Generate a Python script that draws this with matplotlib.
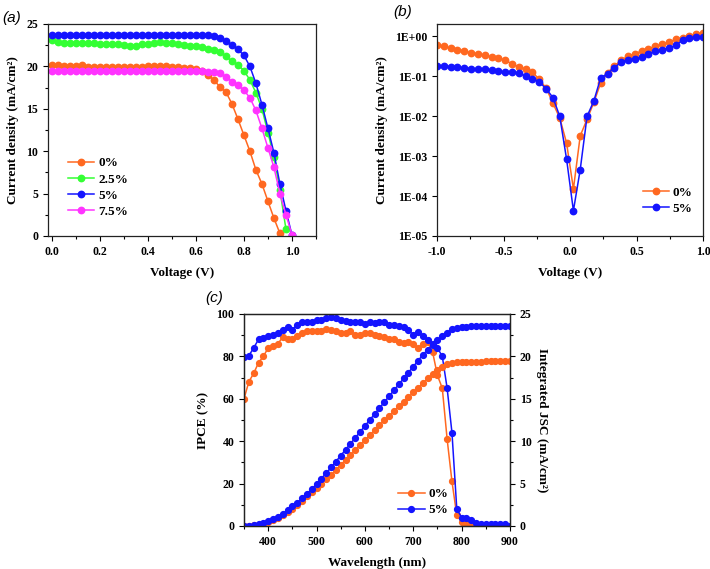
import matplotlib
matplotlib.use("Agg")
import matplotlib.pyplot as plt
import numpy as np
from matplotlib.ticker import MultipleLocator, FixedLocator, NullLocator

plt.rcParams["font.family"] = "Liberation Serif"
plt.rcParams["font.weight"] = "bold"
plt.rcParams["axes.labelweight"] = "bold"
plt.rcParams["font.size"] = 8.5

ORANGE = "#FF6820"
GREEN = "#33FF33"
BLUE = "#1414FF"
MAGENTA = "#FF33FF"

# (a) J-V curves, 0.025 V steps
jv_voltage = [round(0.025 * i, 3) for i in range(41)]
jv_0 = [20.2, 20.2, 20.1, 20.1, 20.1, 20.15, 19.95, 19.95, 19.95, 19.9,
        19.9, 19.9, 19.9, 19.9, 19.9, 19.95, 20.0, 20.0, 20.0, 20.0,
        19.95, 19.9, 19.85, 19.8, 19.7, 19.4, 19.0, 18.4, 17.6, 17.0,
        15.6, 13.8, 11.9, 10.0, 7.8, 6.15, 4.1, 2.1, 0.3]
jv_25 = [23.1, 22.85, 22.8, 22.8, 22.8, 22.8, 22.75, 22.75, 22.7, 22.7,
         22.65, 22.6, 22.5, 22.4, 22.45, 22.6, 22.7, 22.8, 22.85, 22.8,
         22.75, 22.65, 22.55, 22.45, 22.35, 22.25, 22.1, 21.95, 21.7, 21.2,
         20.6, 20.2, 19.5, 18.4, 16.9, 15.0, 12.2, 9.3, 5.4, 0.8]
jv_5 = [23.7, 23.7, 23.7, 23.7, 23.65, 23.7, 23.7, 23.75, 23.7, 23.7,
        23.7, 23.7, 23.7, 23.7, 23.7, 23.7, 23.7, 23.75, 23.75, 23.7,
        23.7, 23.7, 23.7, 23.65, 23.65, 23.65, 23.65, 23.6, 23.4, 23.0,
        22.5, 22.0, 21.3, 20.0, 18.0, 15.5, 12.7, 9.8, 6.1, 3.0, 0.1]
jv_75 = [19.4, 19.4, 19.4, 19.4, 19.4, 19.4, 19.4, 19.4, 19.4, 19.4,
         19.4, 19.4, 19.4, 19.4, 19.4, 19.4, 19.4, 19.45, 19.45, 19.45,
         19.45, 19.45, 19.45, 19.45, 19.4, 19.4, 19.35, 19.35, 19.2, 18.8,
         18.2, 17.8, 17.2, 16.3, 14.8, 12.7, 10.4, 8.1, 5.0, 2.5, 0.15]

# (b) dark J-V, 40 points from -1 to 1 V
dark_voltage = np.linspace(-1.0, 1.0, 40)
dark_0 = [0.60, 0.55, 0.50, 0.46, 0.42, 0.38, 0.36, 0.33, 0.30, 0.28,
          0.25, 0.20, 0.17, 0.15, 0.125, 0.082, 0.050, 0.021, 0.0089, 0.0021,
          1.5e-4, 0.0032, 0.0083, 0.022, 0.067, 0.12, 0.177, 0.25, 0.31, 0.36,
          0.42, 0.48, 0.56, 0.62, 0.71, 0.82, 0.91, 1.0, 1.1, 1.17]
dark_5 = [0.176, 0.176, 0.173, 0.167, 0.16, 0.154, 0.151, 0.146, 0.14, 0.132,
          0.126, 0.125, 0.12, 0.099, 0.086, 0.071, 0.048, 0.029, 0.0098, 8.3e-4,
          4.3e-5, 4.6e-4, 0.0098, 0.024, 0.09, 0.115, 0.16, 0.226, 0.25, 0.27,
          0.30, 0.35, 0.42, 0.46, 0.51, 0.58, 0.79, 0.87, 0.96, 0.97]

# (c) IPCE and integrated Jsc, 10 nm steps
wavelength = list(range(350, 901, 10))
ipce_0 = [60, 68, 72, 77, 80, 84, 85, 86, 89, 88,
          88, 89.5, 91, 92, 92, 92, 92, 93, 92.5, 92,
          91, 91, 92, 90, 90, 91, 91, 90, 89.5, 89,
          88.3, 88, 87, 86.5, 87, 86, 84, 86, 87, 82,
          71, 65, 41, 21, 5, 2, 1.3, 0.5]
ipce_5 = [79.5, 80.3, 84, 88, 88.7, 89.5, 90.2, 91, 92.6, 94,
          92.6, 95, 96, 96, 96.2, 97, 97.3, 98.1, 98.4, 98,
          97.3, 96.5, 96.2, 96.2, 96, 95.4, 96.2, 95.7, 96.2, 96.2,
          95, 94.6, 94.5, 93.9, 92.3, 90.2, 91.5, 89.4, 87.9, 86,
          84, 80, 65, 44, 8, 4, 3.8, 3, 1.2, 1,
          1, 1, 1, 1, 1, 0]
jsc_0 = [0.0, 0.02, 0.07, 0.15, 0.28, 0.45, 0.7, 0.95, 1.3, 1.65,
         2.05, 2.5, 3.0, 3.5, 4.0, 4.5, 5.0, 5.5, 6.0, 6.6,
         7.2, 7.8, 8.35, 8.95, 9.55, 10.1, 10.7, 11.3, 11.9, 12.45,
         13.0, 13.55, 14.1, 14.65, 15.2, 15.75, 16.3, 16.85, 17.4, 17.9,
         18.4, 18.8, 19.05, 19.2, 19.3, 19.3, 19.35, 19.35, 19.35, 19.35,
         19.4, 19.4, 19.4, 19.4, 19.4, 19.4]
jsc_5 = [0.0, 0.05, 0.12, 0.22, 0.36, 0.55, 0.8, 1.1, 1.45, 1.85,
         2.3, 2.75, 3.25, 3.8, 4.35, 4.95, 5.6, 6.25, 6.9, 7.6,
         8.3, 9.0, 9.7, 10.4, 11.1, 11.8, 12.5, 13.2, 13.9, 14.6,
         15.3, 16.0, 16.7, 17.4, 18.1, 18.8, 19.5, 20.2, 20.8, 21.4,
         21.9, 22.4, 22.8, 23.2, 23.4, 23.5, 23.5, 23.55, 23.55, 23.55,
         23.55, 23.55, 23.55, 23.55, 23.55, 23.55]

LW = 1.1
MS = 4.6
LABEL_FS = 9.5


def style_axes(ax):
    for sp in ax.spines.values():
        sp.set_linewidth(0.9)
        sp.set_color("#222222")
    ax.tick_params(which="both", direction="out", width=0.8, labelsize=8.5)
    ax.tick_params(which="major", length=3.5)
    ax.tick_params(which="minor", length=2)


def add_legend(ax, loc, anchor, hl=2.0):
    ax.legend(loc=loc, bbox_to_anchor=anchor, frameon=False,
              fontsize=LABEL_FS, handlelength=hl, handletextpad=0.3,
              labelspacing=0.3, borderaxespad=0)


fig = plt.figure(figsize=(7.1, 5.69), dpi=100)

# ---- (a)
ax_a = fig.add_axes([48 / 710, 1 - 236 / 569, 268 / 710, 212 / 569])
ax_a.plot(jv_voltage[:len(jv_0)], jv_0, "o-", color=ORANGE, lw=LW, ms=MS, label="0%")
ax_a.plot(jv_voltage[:len(jv_25)], jv_25, "o-", color=GREEN, lw=LW, ms=MS, label="2.5%")
ax_a.plot(jv_voltage[:len(jv_5)], jv_5, "o-", color=BLUE, lw=LW, ms=MS, label="5%")
ax_a.plot(jv_voltage[:len(jv_75)], jv_75, "o-", color=MAGENTA, lw=LW, ms=MS, label="7.5%")
ax_a.set_xlim(-0.015, 1.1)
ax_a.set_ylim(0, 25)
ax_a.xaxis.set_minor_locator(MultipleLocator(0.1))
ax_a.yaxis.set_major_locator(MultipleLocator(5))
ax_a.yaxis.set_minor_locator(MultipleLocator(2.5))
ax_a.set_xticks([0, 0.2, 0.4, 0.6, 0.8, 1.0])
ax_a.set_xticklabels(["0.0", "0.2", "0.4", "0.6", "0.8", "1.0"])
ax_a.set_xlabel("Voltage (V)", fontsize=LABEL_FS, labelpad=7)
ax_a.set_ylabel("Current density (mA/cm²)", fontsize=LABEL_FS, labelpad=5)
style_axes(ax_a)
add_legend(ax_a, "lower left", (0.055, 0.06))
fig.text(2 / 710, 1 - 18 / 569, "(a)", family="Liberation Sans", style="italic",
         weight="normal", fontsize=11, va="center", ha="left")

# ---- (b)
ax_b = fig.add_axes([437 / 710, 1 - 236 / 569, 266 / 710, 212 / 569])
ax_b.semilogy(dark_voltage, dark_0, "o-", color=ORANGE, lw=LW, ms=MS, label="0%")
ax_b.semilogy(dark_voltage, dark_5, "o-", color=BLUE, lw=LW, ms=MS, label="5%")
ax_b.set_xlim(-1.0, 1.0)
ax_b.set_ylim(1e-5, 2.0)
ax_b.xaxis.set_minor_locator(MultipleLocator(0.25))
decades = [1e-5, 1e-4, 1e-3, 1e-2, 1e-1, 1e0]
ax_b.yaxis.set_major_locator(FixedLocator(decades))
ax_b.yaxis.set_minor_locator(NullLocator())
ax_b.set_yticklabels(["1E-05", "1E-04", "1E-03", "1E-02", "1E-01", "1E+00"])
ax_b.set_xticks([-1.0, -0.5, 0.0, 0.5, 1.0])
ax_b.set_xticklabels(["-1.0", "-0.5", "0.0", "0.5", "1.0"])
ax_b.set_xlabel("Voltage (V)", fontsize=LABEL_FS, labelpad=7)
ax_b.set_ylabel("Current density (mA/cm²)", fontsize=LABEL_FS, labelpad=5)
style_axes(ax_b)
add_legend(ax_b, "lower right", (0.98, 0.075), hl=1.9)
fig.text(393 / 710, 1 - 12 / 569, "(b)", family="Liberation Sans", style="italic",
         weight="normal", fontsize=11, va="center", ha="left")

# ---- (c)
ax_c = fig.add_axes([244 / 710, 1 - 526 / 569, 266 / 710, 212 / 569])
ax_c2 = ax_c.twinx()
ax_c.plot(wavelength[:len(ipce_0)], ipce_0, "o-", color=ORANGE, lw=LW, ms=4.2, label="0%")
ax_c.plot(wavelength, ipce_5, "o-", color=BLUE, lw=LW, ms=4.2, label="5%")
ax_c2.plot(wavelength, jsc_0, "o-", color=ORANGE, lw=LW, ms=4.2)
ax_c2.plot(wavelength, jsc_5, "o-", color=BLUE, lw=LW, ms=4.2)
ax_c.set_xlim(350, 900)
ax_c.set_ylim(0, 100)
ax_c2.set_ylim(0, 25)
ax_c.xaxis.set_major_locator(MultipleLocator(100))
ax_c.xaxis.set_minor_locator(MultipleLocator(50))
ax_c.yaxis.set_major_locator(MultipleLocator(20))
ax_c.yaxis.set_minor_locator(MultipleLocator(10))
ax_c2.yaxis.set_major_locator(MultipleLocator(5))
ax_c2.yaxis.set_minor_locator(MultipleLocator(2.5))
ax_c.set_xlabel("Wavelength (nm)", fontsize=LABEL_FS, labelpad=7)
ax_c.set_ylabel("IPCE (%)", fontsize=LABEL_FS, labelpad=5)
ax_c2.set_ylabel("Integrated JSC (mA/cm²)", fontsize=LABEL_FS, rotation=270, labelpad=12)
style_axes(ax_c)
style_axes(ax_c2)
add_legend(ax_c, "lower left", (0.56, 0.02))
fig.text(205 / 710, 1 - 298 / 569, "(c)", family="Liberation Sans", style="italic",
         weight="normal", fontsize=11, va="center", ha="left")

fig.savefig("out.png", dpi=100)
